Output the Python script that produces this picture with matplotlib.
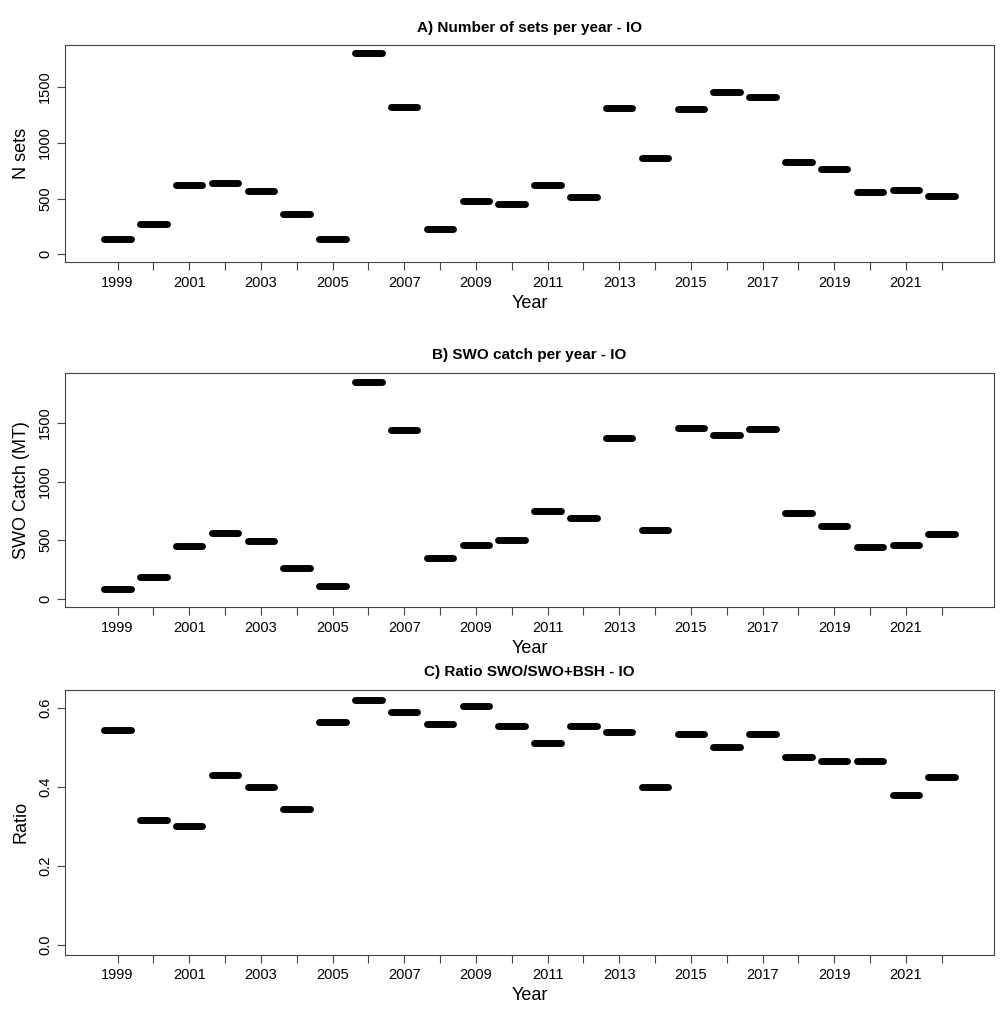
import numpy as np
from matplotlib import pyplot as plt

plt.rcParams['font.family'] = ['Liberation Sans', 'DejaVu Sans']

years = list(range(1999, 2023))
nsets = [140, 270, 625, 640, 570, 365, 135, 1800, 1320, 230, 475, 455,
         625, 510, 1310, 860, 1300, 1450, 1410, 830, 760, 560, 575, 525]
catch = [85, 185, 450, 565, 490, 265, 110, 1850, 1440, 350, 460, 500,
         750, 690, 1370, 590, 1460, 1400, 1450, 735, 625, 440, 455, 550]
ratio = [0.545, 0.315, 0.30, 0.43, 0.40, 0.345, 0.565, 0.62, 0.59, 0.56, 0.605, 0.555,
         0.51, 0.555, 0.54, 0.40, 0.535, 0.50, 0.535, 0.475, 0.465, 0.465, 0.38, 0.425]

panels = [
    ("A) Number of sets per year - IO", "N sets", nsets, [0, 500, 1000, 1500], [0.740, 0.955]),
    ("B) SWO catch per year - IO", "SWO Catch (MT)", catch, [0, 500, 1000, 1500], [0.398, 0.630]),
    ("C) Ratio SWO/SWO+BSH - IO", "Ratio", ratio, [0.0, 0.2, 0.4, 0.6], [0.054, 0.316]),
]

fig = plt.figure(figsize=(10.04, 10.09), dpi=100)
for title, ylab, vals, yt, (b, t) in panels:
    ax = fig.add_axes([0.065, b, 0.925, t - b])
    x = np.arange(1, len(years) + 1)
    ax.hlines(vals, x - 0.37, x + 0.37, color='black', linewidth=5, capstyle='round')
    n = len(years)
    ax.set_xlim(0.5 - 0.04 * n, n + 0.5 + 0.04 * n)
    top = max(vals)
    ax.set_ylim(-0.04 * top, top * 1.04)
    ax.set_xticks(x)
    ax.set_xticklabels([str(y) if y % 2 == 1 else "" for y in years], fontsize=10.5)
    ax.set_yticks(yt)
    ax.set_yticklabels([str(v) for v in yt], rotation=90, va='center', fontsize=10.5)
    ax.set_xlabel("Year", fontsize=13)
    ax.set_ylabel(ylab, fontsize=13, labelpad=6)
    ax.set_title(title, fontsize=11, fontweight='bold', pad=10)
    ax.tick_params(length=6, color='#444444')
    for s in ax.spines.values():
        s.set_color('#444444')

plt.savefig("out.png", dpi=100)
